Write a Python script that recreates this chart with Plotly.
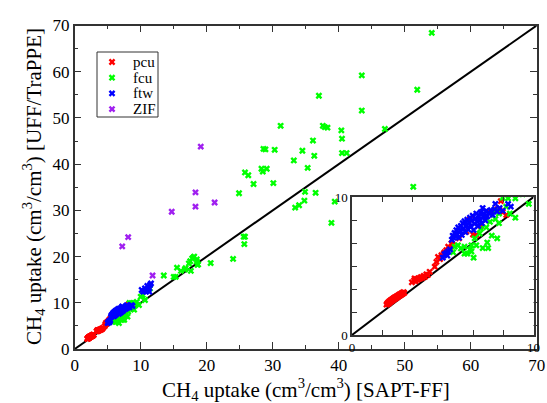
import plotly.graph_objects as go

# ---------------- data ----------------
pcu_x = [1.90, 1.95, 2.00, 2.02, 2.05, 2.08, 2.10, 2.12, 2.15, 2.18, 2.20, 2.22, 2.25, 2.28, 2.30,
         2.33, 2.35, 2.38, 2.40, 2.43, 2.45, 2.48, 2.50, 2.53, 2.55, 2.58, 2.60, 2.63, 2.66, 2.70,
         2.72, 2.76, 2.80, 2.84, 2.88,
         3.30, 3.42, 3.50, 3.55, 3.62, 3.68, 3.75, 3.80, 3.88, 3.95, 4.02, 4.10, 4.18, 4.28, 3.45,
         4.56, 4.65, 4.74, 4.85, 4.93, 5.05, 5.10, 5.20, 5.30, 5.40, 5.48, 5.55,
         5.90, 6.30, 6.50, 6.67, 6.85, 7.10, 7.67, 8.00, 8.13, 8.30, 8.50, 8.20]
pcu_y = [2.20, 2.30, 2.25, 2.40, 2.32, 2.45, 2.38, 2.50, 2.42, 2.55, 2.48, 2.60, 2.52, 2.65, 2.58,
         2.70, 2.62, 2.72, 2.66, 2.78, 2.70, 2.82, 2.75, 2.85, 2.78, 2.90, 2.83, 2.95, 2.88, 3.00,
         2.92, 3.05, 2.98, 3.10, 3.05,
         3.82, 3.95, 3.90, 4.05, 4.00, 4.12, 4.08, 4.20, 4.15, 4.28, 4.22, 4.40, 4.35, 4.58, 4.10,
         4.95, 5.30, 5.66, 5.50, 5.78, 5.90, 6.00, 6.15, 6.40, 6.30, 6.63, 6.55,
         7.00, 7.50, 8.40, 7.28, 7.25, 7.90, 8.90, 9.10, 9.06, 8.90, 8.70, 9.70]

fcu_x = [5.57, 5.66, 5.84, 6.00, 6.20, 6.35, 6.58, 6.58, 6.85, 6.76, 7.03, 7.10, 7.40, 7.70, 7.45,
         7.60, 7.90, 7.95, 8.10, 8.50, 8.30, 8.60, 9.00, 9.74, 8.10,
         6.20, 6.50, 6.70, 7.20, 7.50, 8.00, 8.70, 9.00, 9.40, 10.00, 10.30, 10.65, 11.40,
         13.50, 15.00, 15.30, 15.50, 16.10, 16.70, 16.80, 17.30, 17.50, 17.60, 17.80, 18.00,
         18.10, 18.50, 18.50, 18.60, 18.70, 20.60, 24.00, 25.70, 25.80,
         54.1, 43.5, 51.9, 37.0, 43.5, 31.2, 37.6, 37.9, 38.3, 40.4, 47.0, 36.1, 40.5, 28.6, 28.9,
         30.3, 34.5, 36.3, 40.5, 41.2, 33.2, 28.3, 29.1, 28.5, 35.3, 25.8, 26.3, 27.1, 30.1, 24.9,
         51.3, 34.9, 36.5, 34.8, 34.0, 33.4, 39.4, 38.9, 25.6]
fcu_y = [6.00, 6.40, 6.50, 6.27, 6.40, 5.90, 6.50, 6.05, 6.50, 7.00, 7.35, 7.70, 7.80, 7.20, 6.70,
         8.20, 8.40, 9.00, 8.80, 9.30, 9.95, 9.90, 8.50, 9.50, 8.10,
         5.90, 6.20, 5.60, 6.30, 6.30, 7.00, 8.80, 9.90, 10.20, 11.30, 11.70, 10.60, 13.10,
         15.90, 15.60, 15.60, 17.60, 16.90, 17.20, 17.50, 18.50, 19.00, 16.90, 19.60, 19.80,
         20.00, 19.40, 18.90, 18.20, 18.30, 18.60, 19.50, 22.70, 24.30,
         68.4, 59.2, 56.1, 54.8, 51.6, 48.3, 48.3, 48.0, 47.9, 47.3, 47.6, 45.1, 45.5, 43.3, 43.2,
         43.1, 42.9, 41.8, 42.4, 42.4, 40.8, 39.0, 39.0, 38.4, 39.2, 38.2, 37.6, 35.7, 35.9, 33.7,
         35.1, 34.0, 33.8, 32.1, 31.1, 30.6, 31.9, 27.3, 24.3]

ftw_x = [5.00, 5.10, 5.20, 5.30, 5.25, 5.40, 5.50, 5.55, 5.60, 5.65, 5.70, 5.75, 5.80, 5.85, 5.90,
         5.95, 6.00, 6.05, 6.10, 6.15, 6.20, 6.25, 6.30, 6.35, 6.40, 6.45, 6.50, 6.55, 6.60, 6.65,
         6.70, 6.75, 6.80, 6.85, 6.90, 6.95, 7.00, 7.05, 7.10, 7.15, 7.20, 7.25, 7.30, 7.35, 7.40,
         7.45, 7.55, 7.65, 7.75, 7.85, 7.90, 8.00, 8.13, 8.30, 8.60, 8.75,
         10.15, 10.65, 11.15, 11.00, 11.40, 11.56, 10.40, 10.80, 11.30]
ftw_y = [5.60, 5.85, 5.95, 6.05, 5.75, 6.20, 6.90, 7.20, 7.05, 7.40, 7.15, 7.60, 7.30, 7.80, 7.05,
         7.55, 7.90, 7.25, 8.10, 7.70, 8.25, 7.45, 7.95, 8.35, 7.65, 8.15, 8.50, 7.85, 8.30, 8.65,
         7.60, 8.05, 8.45, 8.80, 8.20, 7.90, 8.60, 8.35, 8.90, 8.10, 9.20, 8.55, 8.75, 8.30, 9.00,
         8.60, 8.85, 9.05, 8.70, 9.10, 9.50, 8.95, 9.20, 9.00, 9.50, 9.30,
         12.77, 13.13, 12.77, 13.63, 13.85, 14.20, 12.40, 12.40, 12.40]

zif_x = [19.1, 18.3, 21.2, 18.3, 14.7, 8.1, 7.2, 11.8]
zif_y = [43.8, 33.9, 31.7, 30.8, 29.7, 24.2, 22.2, 15.9]

series_names = ["pcu", "fcu", "ftw", "ZIF"]
series_colors = ["#ff0000", "#00ff00", "#0000ff", "#a020f0"]

diag_main = [0, 70]
diag_inset = [0, 10]

main_ticks = [0, 10, 20, 30, 40, 50, 60, 70]
inset_ticks = [0, 10]

# ---------------- figure ----------------
W, H = 547, 403
fig = go.Figure()

data_sets = [(pcu_x, pcu_y), (fcu_x, fcu_y), (ftw_x, ftw_y), (zif_x, zif_y)]
mk = dict(symbol="x", size=6, line=dict(width=0))

fig.add_trace(go.Scatter(x=diag_main, y=diag_main, mode="lines",
                         line=dict(color="black", width=2), showlegend=False,
                         hoverinfo="skip", xaxis="x", yaxis="y"))
for (sx, sy), name, col in zip(data_sets, series_names, series_colors):
    fig.add_trace(go.Scatter(x=sx, y=sy, mode="markers", name=name, showlegend=False,
                             marker=dict(color=col, **mk), xaxis="x", yaxis="y"))

fig.add_trace(go.Scatter(x=diag_inset, y=diag_inset, mode="lines",
                         line=dict(color="black", width=2), showlegend=False,
                         hoverinfo="skip", xaxis="x2", yaxis="y2"))
for (sx, sy), name, col in zip(data_sets, series_names, series_colors):
    fig.add_trace(go.Scatter(x=sx, y=sy, mode="markers", name=name, showlegend=False,
                             marker=dict(color=col, **mk), xaxis="x2", yaxis="y2"))

# legend keys (drawn on a hidden helper axis, one row per series)
legend_rows = list(range(len(series_names)))
fig.add_trace(go.Scatter(x=[0] * len(legend_rows), y=legend_rows, mode="markers",
                         marker=dict(color=series_colors, **mk), showlegend=False,
                         hoverinfo="skip", xaxis="x3", yaxis="y3"))

serif = "Liberation Serif"
axcol = "#333333"

main_ax = dict(range=[0, 70], tickvals=main_ticks, ticks="inside", ticklen=7, tickwidth=1.3,
               tickcolor=axcol, showline=True, linecolor=axcol, linewidth=1.5, mirror="ticks",
               showgrid=False, zeroline=False, automargin=False,
               tickfont=dict(family=serif, size=17, color="black"),
               minor=dict(ticks="inside", ticklen=4, dtick=5, tick0=0, tickcolor=axcol, tickwidth=1.2))
inset_ax = dict(range=[0, 10], tickvals=inset_ticks, ticks="inside",
                ticklen=5, tickwidth=1.2, tickcolor=axcol, showline=True, linecolor=axcol,
                linewidth=1.5, mirror="ticks", showgrid=False, zeroline=False, automargin=False,
                tickfont=dict(family=serif, size=13, color="black"),
                minor=dict(ticks="inside", ticklen=5, dtick=10 / 6, tick0=0, tickcolor=axcol,
                           tickwidth=1.2))
hidden_ax = dict(visible=False, showgrid=False, zeroline=False, automargin=False, fixedrange=True)

# legend box geometry (pixels)
lg_l, lg_r, lg_t, lg_b = 97, 158, 52, 117
row0, row_dy = 62, 15.7

annotations = [
    dict(text="CH<sub>4</sub> uptake (cm<sup>3</sup>/cm<sup>3</sup>) [SAPT-FF]",
         xref="paper", yref="paper", x=305.7 / W, y=1 - 389 / H, showarrow=False,
         xanchor="center", yanchor="middle", font=dict(family=serif, size=21, color="black")),
    dict(text="CH<sub>4</sub> uptake (cm<sup>3</sup>/cm<sup>3</sup>) [UFF/TraPPE]",
         xref="paper", yref="paper", x=33 / W, y=1 - 187 / H, showarrow=False, textangle=-90,
         xanchor="center", yanchor="middle", font=dict(family=serif, size=21, color="black")),
]
for i, name in enumerate(series_names):
    annotations.append(dict(text=name, xref="paper", yref="paper", x=131 / W,
                            y=1 - (row0 + row_dy * i) / H, showarrow=False, xanchor="left",
                            yanchor="middle", font=dict(family=serif, size=15, color="black")))

top_val = -(row0 - lg_t) / row_dy
bot_val = (lg_b - row0) / row_dy

fig.update_layout(
    width=W, height=H, margin=dict(l=0, r=0, t=0, b=0),
    paper_bgcolor="white", plot_bgcolor="white", showlegend=False,
    xaxis=dict(domain=[74.7 / W, 536.7 / W], anchor="y", **main_ax),
    yaxis=dict(domain=[1 - 349 / H, 1 - 25.5 / H], anchor="x", **main_ax),
    xaxis2=dict(domain=[352 / W, 533.5 / W], anchor="y2", **inset_ax),
    yaxis2=dict(domain=[1 - 335 / H, 1 - 197 / H], anchor="x2", **inset_ax),
    xaxis3=dict(domain=[100 / W, 124 / W], anchor="y3", range=[-1, 1], **hidden_ax),
    yaxis3=dict(domain=[1 - lg_b / H, 1 - lg_t / H], anchor="x3", range=[bot_val, top_val],
                **hidden_ax),
    shapes=[dict(type="rect", xref="paper", yref="paper", x0=lg_l / W, x1=lg_r / W,
                 y0=1 - lg_b / H, y1=1 - lg_t / H, line=dict(color=axcol, width=1),
                 fillcolor="rgba(0,0,0,0)", layer="above")],
    annotations=annotations,
)

fig.write_html("out.html")
